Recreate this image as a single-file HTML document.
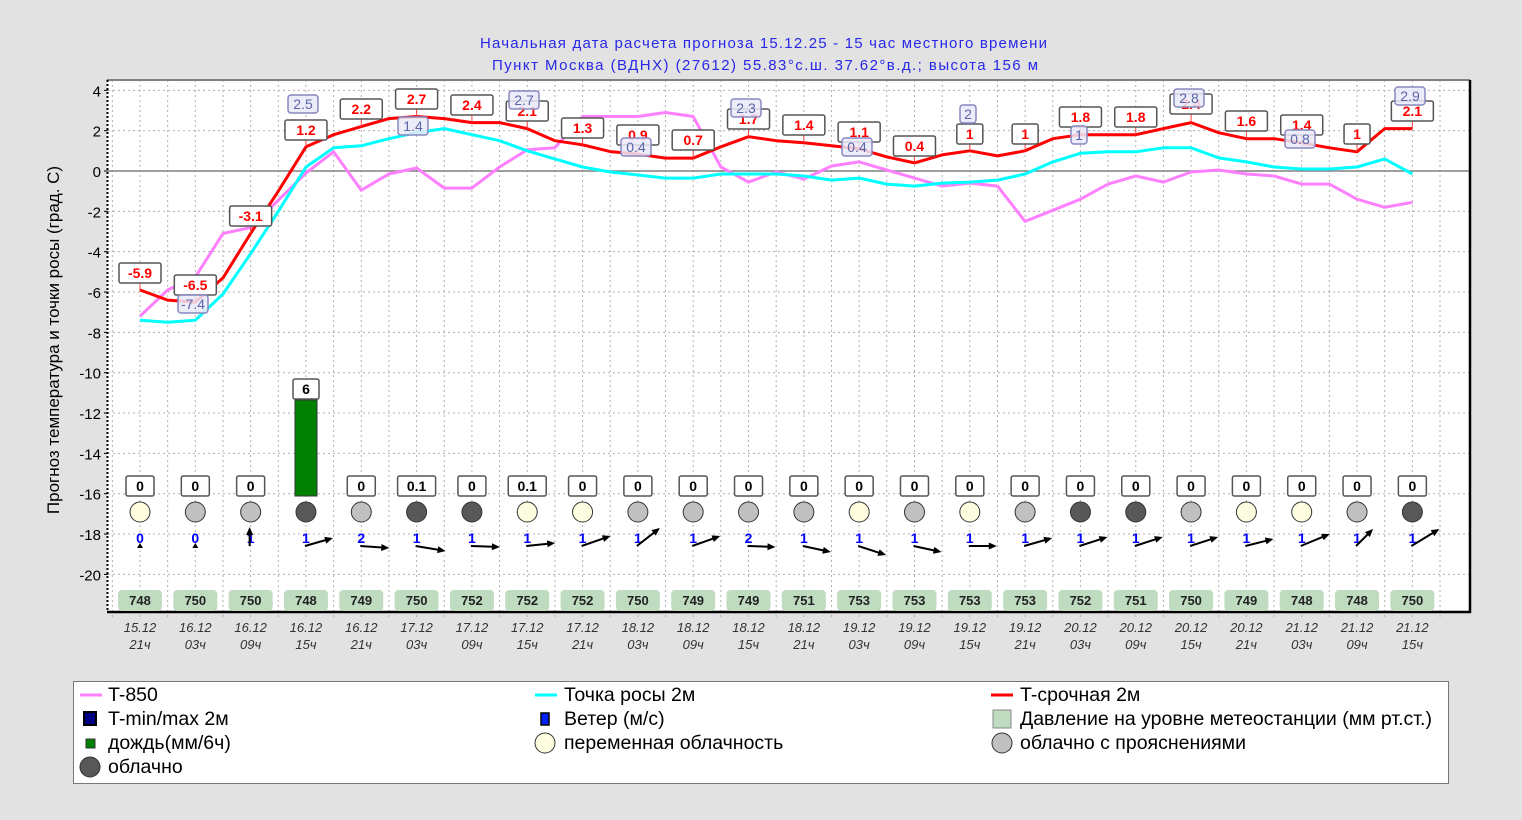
<!DOCTYPE html>
<html><head><meta charset="utf-8">
<style>
body{margin:0;background:#e2e2e2;width:1522px;height:820px;overflow:hidden;font-family:"Liberation Sans",sans-serif;}
svg{position:absolute;left:0;top:0}
</style></head><body>
<svg id="s" width="1522" height="820" xmlns="http://www.w3.org/2000/svg" font-family="Liberation Sans, sans-serif">
<text x="480" y="48" textLength="567" lengthAdjust="spacing" font-size="15" fill="#2828e8">Начальная дата расчета прогноза 15.12.25 -  15 час местного времени</text>
<text x="492" y="70" textLength="546" lengthAdjust="spacing" font-size="15" fill="#2828e8">Пункт  Москва (ВДНХ) (27612)   55.83°с.ш.  37.62°в.д.; высота 156 м</text>
<rect x="107" y="80" width="1363" height="532" fill="#fff"/>
<g id="g"></g>
<text transform="translate(59,340) rotate(-90)" text-anchor="middle" font-size="17" fill="#000">Прогноз температура и точки росы (град. С)</text>
<rect x="73.5" y="681.5" width="1375" height="102" fill="#fff" stroke="#777"/>
<g font-size="19.5">
<line x1="80" y1="695" x2="102" y2="695" stroke="#ff80ff" stroke-width="3"/>
<text x="108" y="701">T-850</text>
<rect x="84" y="712" width="12" height="13" fill="#000080" stroke="#000" stroke-width="2"/>
<text x="108" y="725">T-min/max 2м</text>
<rect x="86" y="739" width="9" height="9" fill="#008000" stroke="#333"/>
<text x="108" y="749">дождь(мм/6ч)</text>
<circle cx="90" cy="767" r="10" fill="#585858" stroke="#333"/>
<text x="108" y="773">облачно</text>
<line x1="535" y1="695" x2="557" y2="695" stroke="#00ffff" stroke-width="3"/>
<text x="564" y="701">Точка росы 2м</text>
<rect x="541" y="713" width="8" height="12" fill="#0020ff" stroke="#000" stroke-width="1.5"/>
<text x="564" y="725">Ветер (м/с)</text>
<circle cx="545" cy="743" r="10" fill="#fffde0" stroke="#333"/>
<text x="564" y="749">переменная облачность</text>
<line x1="991" y1="695" x2="1013" y2="695" stroke="#ff0000" stroke-width="3"/>
<text x="1020" y="701">T-срочная 2м</text>
<rect x="993" y="710" width="18" height="18" fill="#c0dcc0" stroke="#888"/>
<text x="1020" y="725">Давление на уровне метеостанции (мм рт.ст.)</text>
<circle cx="1002" cy="743" r="10" fill="#c0c0c0" stroke="#333"/>
<text x="1020" y="749">облачно с прояснениями</text>
</g>
</svg>
<script>
var g=document.getElementById('g');var h='';
function X(i){return 140+i*27.66;}
function Y(v){return 171-v*20.17;}
for(var i=-1;i<48;i++){var x=X(i);if(x<108||x>1469)continue;h+='<line x1="'+x+'" y1="80" x2="'+x+'" y2="618" stroke="#b0b0b0" stroke-dasharray="2,3"/>';}
for(var v=-20;v<=4;v+=2){var y=Y(v);h+='<line x1="108" y1="'+y+'" x2="1470" y2="'+y+'" stroke="'+(v==0?'#808080':'#b0b0b0')+'" '+(v==0?'stroke-width="1.5"':'stroke-dasharray="2,3"')+'/>';
h+='<text x="101" y="'+(y+6)+'" text-anchor="end" font-size="15">'+v+'</text><line x1="104" y1="'+y+'" x2="108" y2="'+y+'" stroke="#000"/>';}
h+='<line x1="107" y1="80" x2="1470" y2="80" stroke="#808080" stroke-width="2"/>';
h+='<line x1="107.5" y1="80" x2="107.5" y2="612" stroke="#000" stroke-width="2" stroke-dasharray="2,2"/>';
h+='<line x1="1470" y1="80" x2="1470" y2="613" stroke="#000" stroke-width="2.5"/>';
h+='<line x1="107" y1="612" x2="1471" y2="612" stroke="#000" stroke-width="2.5"/>';
function line(vals,c){var p=vals.map(function(v,i){return X(i).toFixed(1)+','+Y(v).toFixed(1)}).join(' ');h+='<polyline points="'+p+'" fill="none" stroke="'+c+'" stroke-width="3" stroke-linejoin="round"/>';}
var mag=[-7.2,-5.9,-5.25,-3.1,-2.8,-1.45,-0.1,0.95,-0.95,-0.15,0.15,-0.85,-0.85,0.2,1.05,1.15,2.7,2.7,2.7,2.9,2.7,0.2,-0.55,-0.05,-0.4,0.25,0.45,0.05,-0.35,-0.75,-0.6,-0.75,-2.5,-1.95,-1.4,-0.65,-0.25,-0.55,-0.05,0.05,-0.15,-0.25,-0.65,-0.65,-1.4,-1.8,-1.55];
var cy=[-7.4,-7.5,-7.4,-6.1,-4.1,-2.0,0.2,1.15,1.25,1.6,1.9,2.1,1.8,1.5,1.0,0.6,0.2,-0.05,-0.2,-0.35,-0.35,-0.15,-0.15,-0.15,-0.25,-0.45,-0.35,-0.65,-0.75,-0.6,-0.55,-0.45,-0.15,0.45,0.88,0.95,0.95,1.15,1.15,0.65,0.45,0.2,0.1,0.1,0.2,0.6,-0.15];
var red=[-5.9,-6.4,-6.5,-5.3,-3.1,-1,1.2,1.8,2.2,2.6,2.7,2.6,2.4,2.4,2.1,1.5,1.3,0.96,0.84,0.64,0.64,1.2,1.7,1.5,1.4,1.25,1.1,0.7,0.4,0.8,1.0,0.75,1.0,1.6,1.8,1.8,1.8,2.1,2.4,1.9,1.6,1.6,1.4,1.15,0.95,2.1,2.1];
line(mag,'#ff80ff');line(cy,'#00ffff');line(red,'#ff0000');
var rl=[['-5.9',273],['-6.5',285],['-3.1',216],['1.2',130],['2.2',109],['2.7',99],['2.4',105],['2.1',111],['1.3',128],['0.9',135],['0.7',140],['1.7',119],['1.4',125],['1.1',132],['0.4',146],['1',134],['1',134],['1.8',117],['1.8',117],['2.4',104],['1.6',121],['1.4',125],['1',134],['2.1',111]];
rl.forEach(function(a,k){var x=X(2*k),w=a[0].length>1?42:26;h+='<line x1="'+x+'" y1="'+(a[1]+10)+'" x2="'+x+'" y2="'+Y(red[2*k])+'" stroke="#ff4040"/>';
h+='<rect x="'+(x-w/2)+'" y="'+(a[1]-10)+'" width="'+w+'" height="20" rx="2" fill="#fff" stroke="#555" stroke-width="1.5"/><text x="'+x+'" y="'+(a[1]+5)+'" text-anchor="middle" font-size="14" font-weight="bold" fill="#ff0000">'+a[0]+'</text>';});
var bl=[[303,104,'2.5'],[193,304,'-7.4'],[413,126,'1.4'],[524,100,'2.7'],[636,147,'0.4'],[746,108,'2.3'],[857,147,'0.4'],[968,114,'2'],[1079,135,'1'],[1189,98,'2.8'],[1300,139,'0.8'],[1410,96,'2.9']];
bl.forEach(function(a){var w=a[2].length>1?30:16;h+='<rect x="'+(a[0]-w/2)+'" y="'+(a[1]-9)+'" width="'+w+'" height="18" rx="3" fill="#eaeaf8" fill-opacity="0.85" stroke="#8888c0" stroke-width="1.5"/><text x="'+a[0]+'" y="'+(a[1]+5)+'" text-anchor="middle" font-size="14" fill="#5a64a8">'+a[2]+'</text>';});
h+='<rect x="295" y="400" width="22" height="96" fill="#008000" stroke="#333"/>';
h+='<rect x="293" y="379" width="26" height="20" rx="2" fill="#fff" stroke="#555" stroke-width="1.5"/><text x="306" y="394" text-anchor="middle" font-size="14" font-weight="bold">6</text>';
var pr=['0','0','0','','0','0.1','0','0.1','0','0','0','0','0','0','0','0','0','0','0','0','0','0','0','0'];
var cl='LGGDGDDLLGGGGLGLGDDGLLGD';var col={L:'#fffde0',G:'#c0c0c0',D:'#585858'};
var ws=['0','0','1','1','2','1','1','1','1','1','1','2','1','1','1','1','1','1','1','1','1','1','1','1'];
var ar=[[0,0],[0,0],[0,-19],[28,-8],[29,2],[30,5],[29,1],[29,-3],[29,-10],[23,-18],[28,-10],[28,1],[28,6],[28,9],[28,6],[28,0],[28,-8],[28,-9],[28,-9],[28,-9],[28,-7],[29,-12],[17,-17],[28,-17]];
var pv=['748','750','750','748','749','750','752','752','752','750','749','749','751','753','753','753','753','752','751','750','749','748','748','750'];
var d1=['15.12','16.12','16.12','16.12','16.12','17.12','17.12','17.12','17.12','18.12','18.12','18.12','18.12','19.12','19.12','19.12','19.12','20.12','20.12','20.12','20.12','21.12','21.12','21.12'];
var d2=['21ч','03ч','09ч','15ч','21ч','03ч','09ч','15ч','21ч','03ч','09ч','15ч','21ч','03ч','09ч','15ч','21ч','03ч','09ч','15ч','21ч','03ч','09ч','15ч'];
for(var k=0;k<24;k++){var x=X(2*k);
if(pr[k]){var w=pr[k].length>1?38:28;h+='<rect x="'+(x-w/2)+'" y="476" width="'+w+'" height="20" rx="2" fill="#fff" stroke="#555" stroke-width="1.5"/><text x="'+x+'" y="491" text-anchor="middle" font-size="14" font-weight="bold">'+pr[k]+'</text>';}
h+='<circle cx="'+x+'" cy="512" r="10" fill="'+col[cl[k]]+'" stroke="#333"/>';
h+='<text x="'+x+'" y="543" text-anchor="middle" font-size="14" font-weight="bold" fill="#0000ff">'+ws[k]+'</text>';
var a=ar[k],x0=x-1,y0=546;
if(a[0]==0&&a[1]==0){h+='<polygon points="'+(x-3)+',548 '+(x+3)+',548 '+x+',543" fill="#000"/>';}
else{var x1=x0+a[0],y1=y0+a[1],L=Math.hypot(a[0],a[1]),ux=a[0]/L,uy=a[1]/L;
h+='<line x1="'+x0+'" y1="'+y0+'" x2="'+(x1-ux*6)+'" y2="'+(y1-uy*6)+'" stroke="#000" stroke-width="2"/>';
h+='<polygon points="'+x1+','+y1+' '+(x1-ux*8-uy*3.5)+','+(y1-uy*8+ux*3.5)+' '+(x1-ux*8+uy*3.5)+','+(y1-uy*8-ux*3.5)+'" fill="#000"/>';}
h+='<rect x="'+(x-22)+'" y="590" width="44" height="21" rx="4" fill="#c0dcc0"/><text x="'+x+'" y="605" text-anchor="middle" font-size="13" font-weight="bold" fill="#222">'+pv[k]+'</text>';
h+='<text x="'+x+'" y="632" text-anchor="middle" font-size="13" font-style="italic" fill="#333">'+d1[k]+'</text><text x="'+x+'" y="649" text-anchor="middle" font-size="13" font-style="italic" fill="#333">'+d2[k]+'</text>';}
g.innerHTML=h;
</script>
</body></html>
